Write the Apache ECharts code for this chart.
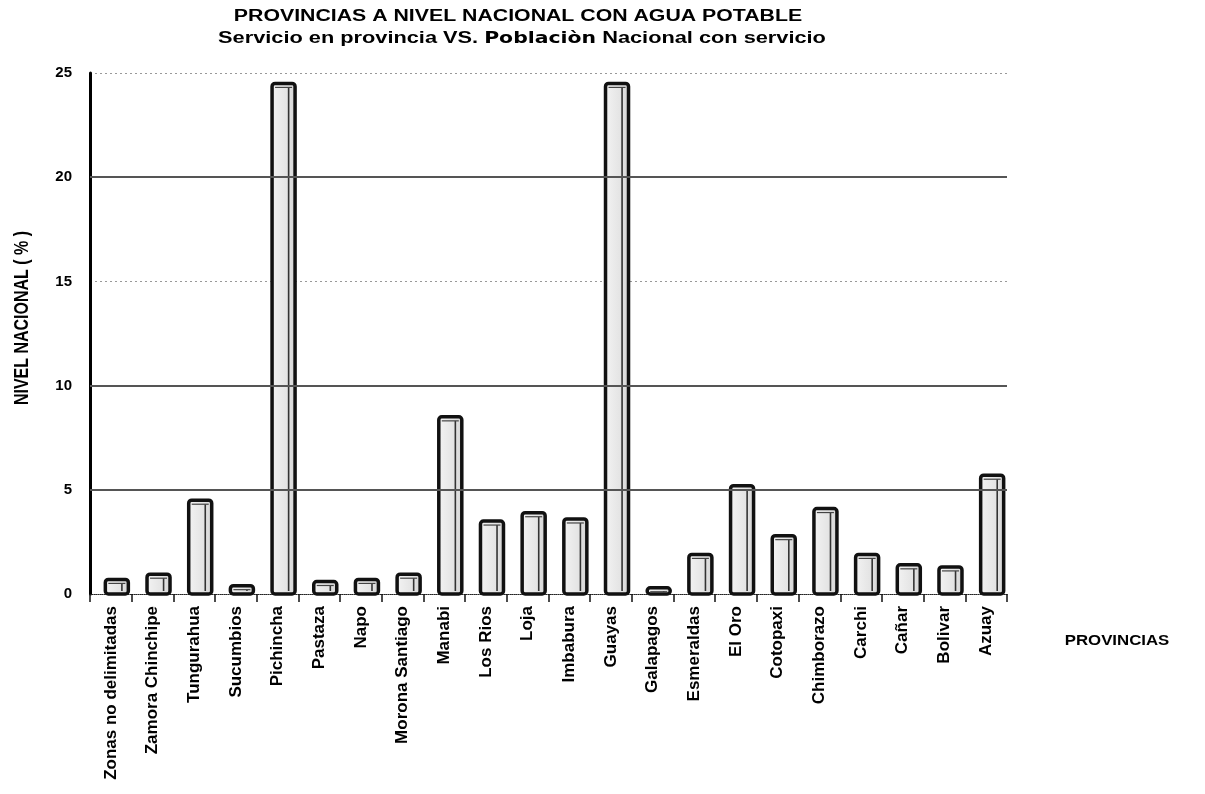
<!DOCTYPE html>
<html>
<head>
<meta charset="utf-8">
<style>
  html, body { margin: 0; padding: 0; background: #fff; }
  #chart { width: 1205px; height: 794px; }
</style>
<script src="https://cdn.jsdelivr.net/npm/echarts@6/dist/echarts.min.js"></script>
</head>
<body>
<div id="chart"></div>
<script>
// Provinces, in the order they appear along the axis
const provincias = [
  'Zonas no delimitadas', 'Zamora Chinchipe', 'Tungurahua', 'Sucumbios',
  'Pichincha', 'Pastaza', 'Napo', 'Morona Santiago', 'Manabi', 'Los Rios',
  'Loja', 'Imbabura', 'Guayas', 'Galapagos', 'Esmeraldas', 'El Oro',
  'Cotopaxi', 'Chimborazo', 'Carchi', 'Cañar', 'Bolivar', 'Azuay'
];

// Share of the national population with drinking water service (%)
const nivelNacional = [
  0.7, 0.95, 4.5, 0.4,
  24.5, 0.6, 0.7, 0.95, 8.5, 3.5,
  3.9, 3.6, 24.5, 0.3, 1.9, 5.2,
  2.8, 4.1, 1.9, 1.4, 1.3, 5.7
];

// Y axis ticks and the heavier reference lines
const yTicks = [0, 5, 10, 15, 20, 25];
const heavyLines = [5, 10, 20];

const titleLine1 = 'PROVINCIAS A NIVEL NACIONAL CON AGUA POTABLE';
const titleLine2 = 'Servicio en provincia VS. {p|Poblaciòn} Nacional con servicio';
const yName = 'NIVEL NACIONAL ( % )';
const xName = 'PROVINCIAS';

const FONT = '"Liberation Sans", Arial, sans-serif';

const chart = echarts.init(document.getElementById('chart'), null, { renderer: 'canvas' });

// Bar drawn as a framed column with an inner edge line for a raised look
function renderBar(params, api) {
  const idx = api.value(0);
  const val = api.value(1);
  const top = api.coord([idx, val]);
  const base = api.coord([idx, 0]);
  const w = 23;
  const x = top[0] - w / 2 + 6;
  const h = Math.max(base[1] - top[1], 6);
  const y = base[1] - h;
  const edge = x + w * 0.72;
  return {
    type: 'group',
    children: [
      {
        type: 'rect',
        shape: { x: x, y: y, width: w, height: h, r: 3 },
        style: {
          fill: new echarts.graphic.LinearGradient(0, 0, 1, 0, [
            { offset: 0, color: '#f4f4f4' },
            { offset: 0.7, color: '#e2e2e2' },
            { offset: 1, color: '#d0d0d0' }
          ]),
          stroke: '#111',
          lineWidth: 3.5
        }
      },
      {
        type: 'line',
        shape: { x1: edge, y1: y + 4, x2: edge, y2: base[1] - 3 },
        style: { stroke: '#333', lineWidth: 1.6 }
      },
      {
        type: 'line',
        shape: { x1: x + 3, y1: y + 4, x2: x + w - 3, y2: y + 4 },
        style: { stroke: '#444', lineWidth: 1.2 }
      }
    ]
  };
}

const option = {
  backgroundColor: '#fff',
  animation: false,
  grid: { left: 90, right: 198, top: 73, bottom: 200, containLabel: false },
  xAxis: {
    type: 'category',
    data: provincias,
    boundaryGap: true,
    axisLine: { show: true, lineStyle: { color: '#222', width: 1, type: 'dotted' } },
    axisTick: { show: true, length: 8, lineStyle: { color: '#111', width: 1.5 } },
    axisLabel: {
      rotate: 90,
      interval: 0,
      margin: 12,
      color: '#000',
      fontFamily: FONT,
      fontWeight: 'bold',
      fontSize: 17
    },
    splitLine: { show: false }
  },
  yAxis: {
    type: 'value',
    min: yTicks[0],
    max: yTicks[yTicks.length - 1],
    interval: yTicks[1] - yTicks[0],
    axisLine: { show: true, lineStyle: { color: '#000', width: 3 } },
    axisTick: { show: false },
    axisLabel: {
      margin: 18,
      color: '#000',
      fontFamily: FONT,
      fontWeight: 'bold',
      fontSize: 15
    },
    splitLine: { show: true, lineStyle: { color: '#999', width: 1.2, type: [2, 3] } }
  },
  series: [
    {
      type: 'line',
      data: [],
      z: 1,
      silent: true,
      markLine: {
        symbol: 'none',
        silent: true,
        label: { show: false },
        lineStyle: { color: '#555', width: 2.2, type: 'solid' },
        data: heavyLines.map(v => ({ yAxis: v }))
      }
    },
    {
      type: 'custom',
      z: 3,
      renderItem: renderBar,
      encode: { x: 0, y: 1 },
      data: nivelNacional.map((v, i) => [i, v])
    }
  ],
  graphic: [
    {
      type: 'text',
      x: 518, y: 17,
      scaleX: 1.33,
      style: {
        text: titleLine1,
        font: 'bold 16px ' + FONT,
        fill: '#000',
        textAlign: 'center',
        textVerticalAlign: 'middle'
      }
    },
    {
      type: 'text',
      x: 522, y: 39,
      scaleX: 1.36,
      style: {
        text: titleLine2,
        font: 'bold 16px ' + FONT,
        fill: '#000',
        textAlign: 'center',
        textVerticalAlign: 'middle',
        rich: {
          p: { font: 'bold 15px "DejaVu Sans", sans-serif', fill: '#000' }
        }
      }
    },
    {
      type: 'text',
      x: 22, y: 318,
      rotation: Math.PI / 2,
      scaleY: 1.3,
      style: {
        text: yName,
        font: 'bold 16px ' + FONT,
        fill: '#000',
        textAlign: 'center',
        textVerticalAlign: 'middle'
      }
    },
    {
      type: 'text',
      x: 1117, y: 641,
      scaleX: 1.2,
      style: {
        text: xName,
        font: 'bold 14px ' + FONT,
        fill: '#000',
        textAlign: 'center',
        textVerticalAlign: 'middle'
      }
    }
  ]
};

chart.setOption(option);
</script>
</body>
</html>
